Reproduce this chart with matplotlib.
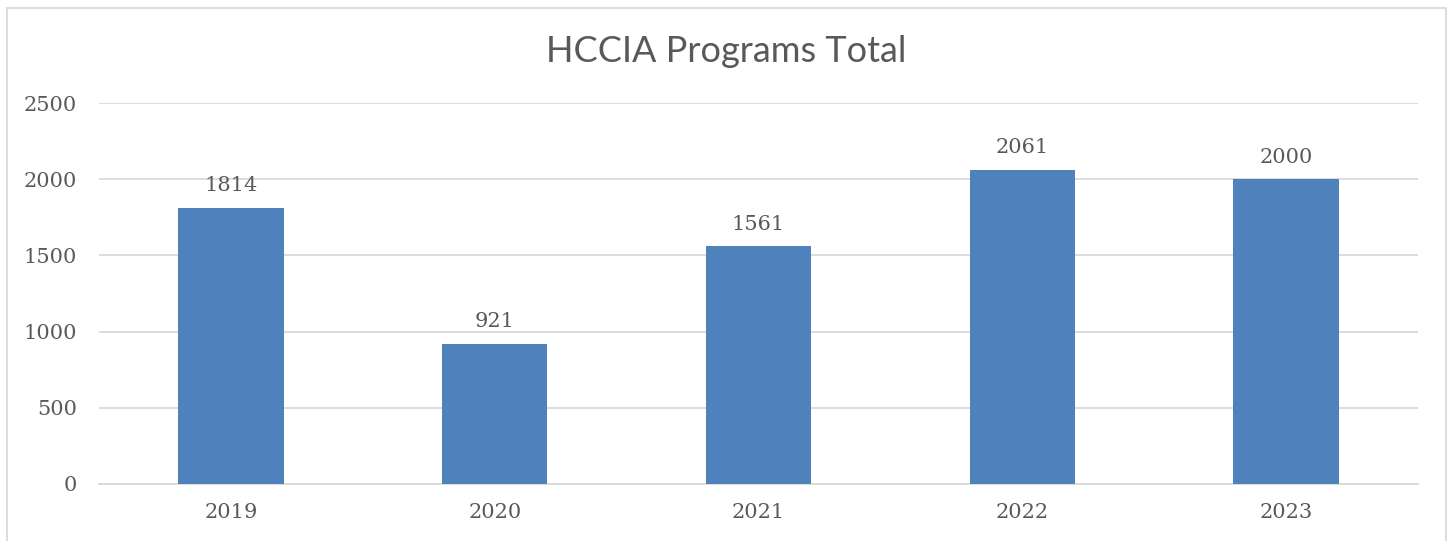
import matplotlib.pyplot as plt
from matplotlib.patches import Rectangle

# data
years = ["2019", "2020", "2021", "2022", "2023"]
totals = [1814, 921, 1561, 2061, 2000]

bar_color = "#4F81BD"
text_color = "#595959"
grid_color = "#D9D9D9"

fig = plt.figure(figsize=(14.52, 5.41), dpi=100)
ax = fig.add_axes([0.0682, 0.1054, 0.9084, 0.7042])

x = range(len(years))
bars = ax.bar(x, totals, width=0.40, color=bar_color, zorder=3)

ax.set_xlim(-0.5, len(years) - 0.5)
ax.set_ylim(0, 2500)
ax.set_yticks([0, 500, 1000, 1500, 2000, 2500])
ax.set_xticks(list(x))
ax.set_xticklabels(years)

ax.grid(axis="y", color=grid_color, linewidth=1.3, zorder=0)
for s in ["top", "right", "left"]:
    ax.spines[s].set_visible(False)
ax.spines["bottom"].set_color(grid_color)
ax.spines["bottom"].set_linewidth(1.3)
ax.tick_params(length=0, colors=text_color, labelsize=15)
ax.tick_params(axis="y", pad=16)
ax.tick_params(axis="x", pad=14)
for lab in ax.get_xticklabels() + ax.get_yticklabels():
    lab.set_fontfamily("DejaVu Serif")

# value labels
for b, v in zip(bars, totals):
    ax.annotate(str(v), (b.get_x() + b.get_width() / 2, v), xytext=(0, 9),
                textcoords="offset points", ha="center", va="bottom",
                fontsize=15, color=text_color, family="DejaVu Serif")

fig.text(0.5, 0.904, "HCCIA Programs Total", ha="center", va="center",
         fontsize=26, color=text_color, family="Lato", fontweight="normal")

# chart border
fig.patches.append(Rectangle((0.0048, -0.05), 0.9911, 0.9852 + 0.05,
                             transform=fig.transFigure, fill=False,
                             edgecolor=grid_color, linewidth=1.3))

fig.savefig("out.png", dpi=100)
